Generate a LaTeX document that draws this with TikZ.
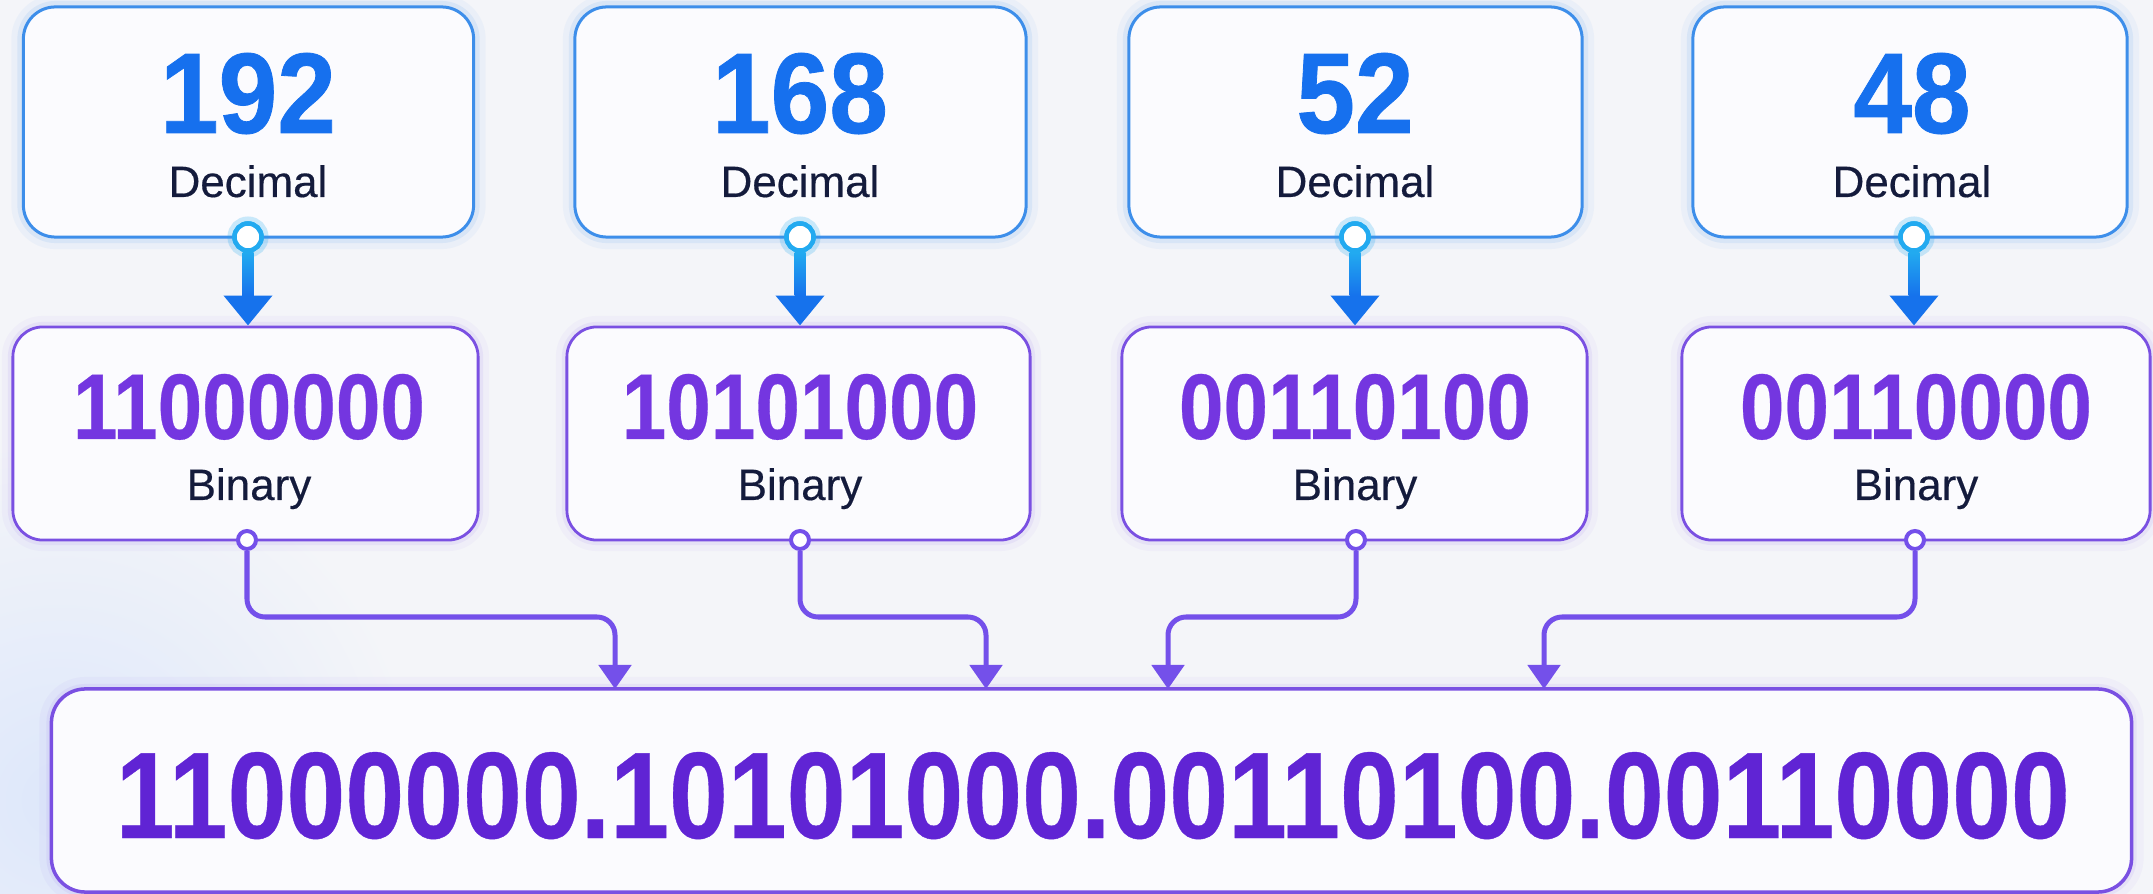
\documentclass[tikz,border=0pt]{standalone}
\usepackage{fontspec}
\setmainfont{Liberation Sans}
\newfontfamily\decfont{Liberation Sans}[FakeStretch=0.92, BoldFeatures={FakeBold=0.7}]
\newfontfamily\binfont{Liberation Sans}[FakeStretch=0.86, BoldFeatures={FakeBold=0.3}]
\newfontfamily\lblfont{Liberation Sans}[FakeBold=0.35]
\usetikzlibrary{arrows.meta,calc}
\definecolor{bg}{HTML}{F4F5F9}
\definecolor{boxfill}{HTML}{FBFBFE}
\definecolor{blueborder}{HTML}{3D8EEA}
\definecolor{bluetext}{HTML}{1670EE}
\definecolor{navy}{HTML}{141B3C}
\definecolor{purpleborder}{HTML}{7A50E2}
\definecolor{purpletext}{HTML}{7436E0}
\definecolor{iptext}{HTML}{6024D4}
\definecolor{connpurple}{HTML}{7450EA}
\definecolor{conncyan}{HTML}{22AAF0}
\definecolor{arrowblue}{HTML}{1672EC}
\definecolor{haze}{HTML}{DDE7FA}
\begin{document}
\begin{tikzpicture}[x=0.01cm,y=-0.01cm,
  decbox/.style={draw=blueborder, line width=0.03cm, fill=boxfill, rounded corners=0.32cm,
    minimum height=2.3cm, inner sep=0pt,
    preaction={draw=blueborder, line width=0.24cm, opacity=0.05},
    preaction={draw=blueborder, line width=0.12cm, opacity=0.10}},
  binbox/.style={draw=purpleborder, line width=0.028cm, fill=boxfill, rounded corners=0.3cm,
    minimum height=2.13cm, inner sep=0pt,
    preaction={draw=purpleborder, line width=0.22cm, opacity=0.04},
    preaction={draw=purpleborder, line width=0.10cm, opacity=0.08}},
  ipbox/.style={draw=purpleborder, line width=0.035cm, fill=boxfill, rounded corners=0.34cm,
    minimum width=20.79cm, minimum height=2.03cm, inner sep=0pt,
    preaction={draw=purpleborder, line width=0.24cm, opacity=0.04},
    preaction={draw=purpleborder, line width=0.10cm, opacity=0.08}},
  decnum/.style={anchor=base, inner sep=0pt, text=bluetext, font=\decfont\bfseries\fontsize{32.6pt}{36pt}\selectfont},
  binnum/.style={anchor=base, inner sep=0pt, text=purpletext, font=\binfont\bfseries\fontsize{26.5pt}{30pt}\selectfont},
  ipnum/.style={anchor=base, inner sep=0pt, text=iptext, font=\binfont\bfseries\fontsize{35pt}{40pt}\selectfont},
  lbl/.style={anchor=base, inner sep=0pt, text=navy, font=\lblfont\fontsize{12.5pt}{14pt}\selectfont},
  topdot/.style={circle, draw=conncyan, line width=0.045cm, fill=white, minimum size=0.27cm, inner sep=0pt,
    preaction={draw=conncyan, line width=0.14cm, opacity=0.12}},
  botdot/.style={circle, draw=connpurple, line width=0.04cm, fill=white, minimum size=0.18cm, inner sep=0pt},
  bluearrow/.style={draw=arrowblue, line width=0.11cm, -{Triangle[width=0.47cm,length=0.3cm]}},
  purplearrow/.style={draw=connpurple, line width=0.05cm, rounded corners=0.18cm, -{Triangle[width=0.32cm,length=0.24cm]}}
]
\useasboundingbox (0,0) rectangle (2153,894);
\fill[bg] (0,0) rectangle (2153,894);
\shade[inner color=haze, outer color=bg] (60,800) circle (360);

% decimal boxes
\node[decbox, minimum width=4.5cm]  (d1) at (248.5,122) {};
\node[decbox, minimum width=4.51cm] (d2) at (800.5,122) {};
\node[decbox, minimum width=4.53cm] (d3) at (1355.5,122) {};
\node[decbox, minimum width=4.34cm] (d4) at (1910,122) {};

% binary boxes
\node[binbox, minimum width=4.65cm] (b1) at (245.5,433.5) {};
\node[binbox, minimum width=4.63cm] (b2) at (798.5,433.5) {};
\node[binbox, minimum width=4.65cm] (b3) at (1354.5,433.5) {};
\node[binbox, minimum width=4.68cm] (b4) at (1916,433.5) {};

% result box
\node[ipbox] (ip) at (1091.5,790.5) {};

% texts
\node[decnum] (d1n) at (248,133) {192};
\node[decnum] (d2n) at (800,133) {168};
\node[decnum] (d3n) at (1355,133) {52};
\node[decnum] (d4n) at (1912,133) {48};
\node[lbl] (d1l) at (248,197) {Decimal};
\node[lbl] (d2l) at (800,197) {Decimal};
\node[lbl] (d3l) at (1355,197) {Decimal};
\node[lbl] (d4l) at (1912,197) {Decimal};

\node[binnum] (b1n) at (249,439) {11000000};
\node[binnum] (b2n) at (800,439) {10101000};
\node[binnum] (b3n) at (1355,439) {00110100};
\node[binnum] (b4n) at (1916,439) {00110000};
\node[lbl] (b1l) at (249,500) {Binary};
\node[lbl] (b2l) at (800,500) {Binary};
\node[lbl] (b3l) at (1355,500) {Binary};
\node[lbl] (b4l) at (1916,500) {Binary};

\node[ipnum] (ipn) at (1093,838) {11000000.10101000.00110100.00110000};

% decimal -> binary connectors
\foreach \i/\x in {1/248,2/800,3/1355,4/1914}{
  \node[topdot] (d\i o) at (\x,237) {};
  \draw[bluearrow] (d\i o.south) -- (d\i o.south |- b\i.north);
  \shade[top color=conncyan, bottom color=arrowblue]
    ($(d\i o.south)+(-5.5,0)$) rectangle ($(d\i o.south |- b\i.north)+(5.5,-30)$);
  \node[topdot] at (d\i o) {};
}

% binary -> result connectors
\coordinate (t1) at (615,689);
\coordinate (t2) at (986,689);
\coordinate (t3) at (1168,689);
\coordinate (t4) at (1544,689);
\foreach \i/\x in {1/247,2/800,3/1356,4/1915}{
  \node[botdot] (b\i o) at (\x,540) {};
  \draw[purplearrow] (b\i o.south) |- ($(t\i)+(0,-72)$) -- (t\i);
}
\end{tikzpicture}
\end{document}
